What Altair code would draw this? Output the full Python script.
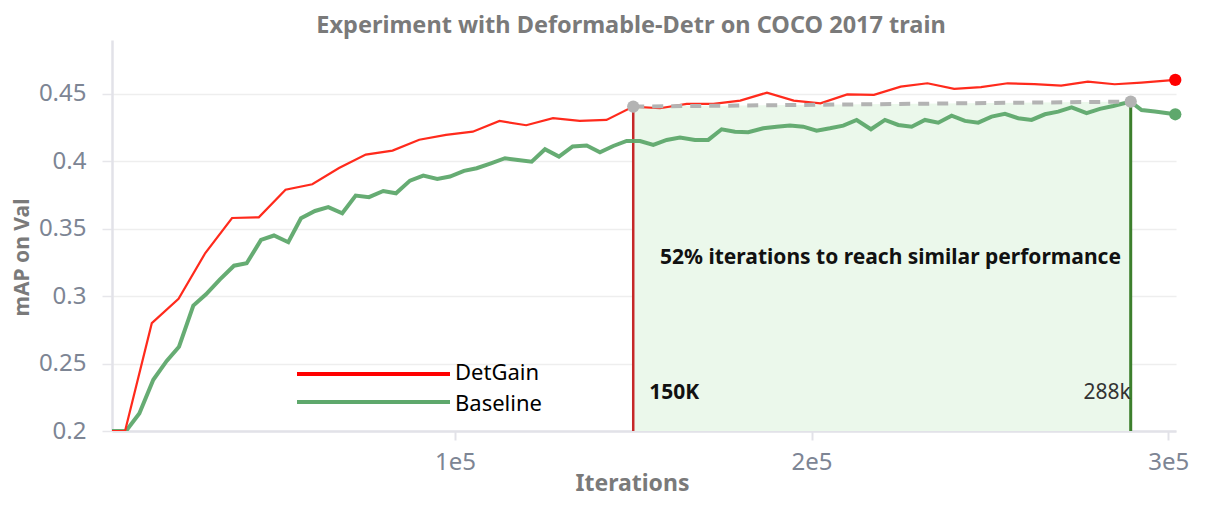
import altair as alt
import pandas as pd

# ---- data ----
red_iter = [0, 7500, 15000, 22500, 30000, 37500, 45000, 52500, 60000, 67500, 75000,
            82500, 90000, 97500, 105000, 112500, 120000, 127500, 135000, 142500,
            150000, 157500, 165000, 172500, 180000, 187500, 195000, 202500, 210000,
            217500, 225000, 232500, 240000, 247500, 255000, 262500, 270000, 277500,
            285000, 292500, 302000]
red_map = [0.2, 0.2, 0.280, 0.298, 0.332, 0.358, 0.3585, 0.379, 0.383, 0.395, 0.405,
           0.408, 0.416, 0.4196, 0.422, 0.430, 0.4268, 0.432, 0.430, 0.4307,
           0.4406, 0.4394, 0.4426, 0.4426, 0.445, 0.451, 0.445, 0.443, 0.4497,
           0.4493, 0.4554, 0.4579, 0.4537, 0.455, 0.4579, 0.4572, 0.4562, 0.4591,
           0.4572, 0.4584, 0.4604]

green_iter = [0, 7770, 11500, 15420, 19180, 22630, 26640, 30200, 34120, 38050, 41610,
              45620, 49260, 53270, 56830, 60760, 64490, 68410, 72170, 75900, 79910,
              83470, 87400, 91130, 95050, 98610, 102540, 106100, 110100, 114040,
              117680, 121520, 125250, 129170, 133020, 136940, 140670, 144400, 148150,
              151900, 155620, 159380, 163100, 167310, 171040, 174790, 178520, 182250,
              186460, 190210, 193940, 197670, 201430, 205160, 208890, 212650, 216660,
              220590, 224310, 228070, 231800, 235530, 239280, 243010, 246740, 250500,
              254230, 257950, 261710, 265440, 269170, 272930, 277130, 280860, 284590,
              289470, 292550, 296280, 302000]
green_map = [0.2, 0.2, 0.213, 0.238, 0.252, 0.2625, 0.293, 0.3014, 0.3125, 0.3226, 0.3244,
             0.3417, 0.345, 0.340, 0.3578, 0.3632, 0.366, 0.3615, 0.3746, 0.3734, 0.378,
             0.3763, 0.3857, 0.3894, 0.387, 0.3887, 0.3929, 0.3949, 0.3985, 0.4023,
             0.401, 0.3998, 0.409, 0.4035, 0.411, 0.4117, 0.4067, 0.4114, 0.4151,
             0.4151, 0.4122, 0.4159, 0.4176, 0.4159, 0.4159, 0.4238, 0.422, 0.4216,
             0.4245, 0.4257, 0.4265, 0.4257, 0.4228, 0.4245, 0.4265, 0.4307, 0.4238,
             0.4307, 0.427, 0.4257, 0.4307, 0.4287, 0.4339, 0.43, 0.4287, 0.4332,
             0.4352, 0.432, 0.4307, 0.4349, 0.4369, 0.4401, 0.4357, 0.4389, 0.4411,
             0.4443, 0.4381, 0.4369, 0.4349]

# reach-similar-performance markers
mark_iter = [150000, 289500]
mark_map = [0.4406, 0.4443]
mark_label = ["150K", "288k"]

annot_text = "52% iterations to reach similar performance"
annot_iter = 157500
annot_map = 0.3283

series_names = ["DetGain", "Baseline"]
series_colors = ["#ff2a1c", "#5ea86c"]

x_ticks = [100000, 200000, 300000]
y_ticks = [0.2, 0.25, 0.3, 0.35, 0.4, 0.45]

X_DOM = [3840, 302200]
Y_DOM = [0.2, 0.49]
FONT = "Noto Sans"

red_df = pd.DataFrame({"it": red_iter, "map": red_map})
green_df = pd.DataFrame({"it": green_iter, "map": green_map})
mark_df = pd.DataFrame({"it": mark_iter, "map": mark_map, "label": mark_label,
                        "base": [0.2, 0.2]})
end_df = pd.DataFrame({"it": [red_iter[-1], green_iter[-1]],
                       "map": [red_map[-1], green_map[-1]],
                       "series": series_names})

xs = alt.Scale(domain=X_DOM, nice=False, zero=False)
ys = alt.Scale(domain=Y_DOM, nice=False, zero=False)

x_axis = alt.Axis(values=x_ticks, labelExpr="datum.value/100000 + 'e5'", title="Iterations",
                  grid=False, tickSize=9, tickColor="#e2e2e8", tickWidth=2,
                  labelPadding=10, titleX=520, titleY=52, titleAlign="center",
                  titleBaseline="middle", titleFontSize=23)
y_axis = alt.Axis(values=y_ticks, labelExpr="format(datum.value, '~g')", title="mAP on Val",
                  grid=True, gridColor="#eeeeee", gridWidth=1.5, tickSize=10,
                  tickColor="#e6e6ea", tickWidth=1.5, labelPadding=16,
                  titleX=-90, titleY=217, titleAngle=270, titleAlign="center",
                  titleBaseline="middle", titleFontSize=21)

X = alt.X("it:Q", scale=xs, axis=x_axis)
Y = alt.Y("map:Q", scale=ys, axis=y_axis)

shade = alt.Chart(mark_df).mark_area(color="#ebf8eb", opacity=1).encode(
    x=alt.X("it:Q", scale=xs, axis=x_axis), y=Y, y2="base:Q")

red_line = alt.Chart(red_df).mark_line(color=series_colors[0], strokeWidth=2.2, clip=True).encode(x=X, y=Y)
green_line = alt.Chart(green_df).mark_line(color=series_colors[1], strokeWidth=4, opacity=0.95,
                                            clip=True).encode(x=X, y=Y)

red_rule = alt.Chart(mark_df.iloc[[0]]).mark_rule(color="#c62828", strokeWidth=2.5).encode(
    x="it:Q", y="map:Q", y2="base:Q")
green_rule = alt.Chart(mark_df.iloc[[1]]).mark_rule(color="#3c7f2c", strokeWidth=3).encode(
    x="it:Q", y="map:Q", y2="base:Q")

dash = alt.Chart(mark_df).mark_line(color="#b3b3b3", strokeWidth=4, strokeDash=[11, 8]).encode(
    x="it:Q", y="map:Q")
gray_pts = alt.Chart(mark_df).mark_point(filled=True, color="#b3b3b3", size=150, opacity=1).encode(
    x="it:Q", y="map:Q")
end_pts = alt.Chart(end_df).mark_point(filled=True, size=150, opacity=1, clip=False).encode(
    x="it:Q", y="map:Q",
    color=alt.Color("series:N", scale=alt.Scale(domain=series_names, range=["#ff0000", "#5ea86c"]),
                    legend=None))

annot = alt.Chart(pd.DataFrame({"it": [annot_iter], "map": [annot_map], "t": [annot_text]})).mark_text(
    align="left", baseline="middle", fontSize=21, fontWeight="bold", font=FONT, color="#111111"
).encode(x="it:Q", y="map:Q", text="t:N")

lbl150 = alt.Chart(mark_df.iloc[[0]]).mark_text(
    align="left", baseline="middle", fontSize=21, fontWeight="bold", font=FONT, color="#111111",
    dx=16, dy=-38).encode(x="it:Q", y="base:Q", text="label:N")
lbl288 = alt.Chart(mark_df.iloc[[1]]).mark_text(
    align="right", baseline="middle", fontSize=21, font=FONT, color="#333333",
    dx=0, dy=-38).encode(x="it:Q", y="base:Q", text="label:N")

# manual legend
leg_red = alt.Chart(red_df.iloc[[0]]).mark_rule(color="#ff0000", strokeWidth=4).encode(
    x=alt.value(185), x2=alt.value(338), y=alt.value(334))
leg_green = alt.Chart(red_df.iloc[[0]]).mark_rule(color="#5ea86c", strokeWidth=4).encode(
    x=alt.value(185), x2=alt.value(338), y=alt.value(362))
leg_t1 = alt.Chart(red_df.iloc[[0]]).mark_text(
    align="left", baseline="middle", fontSize=22, font=FONT, color="#000000"
).encode(x=alt.value(343), y=alt.value(333), text=alt.value(series_names[0]))
leg_t2 = alt.Chart(red_df.iloc[[0]]).mark_text(
    align="left", baseline="middle", fontSize=22, font=FONT, color="#000000"
).encode(x=alt.value(343), y=alt.value(364), text=alt.value(series_names[1]))

chart = alt.layer(
    shade, red_rule, green_line, red_line, green_rule, dash, gray_pts, end_pts,
    annot, lbl150, lbl288, leg_red, leg_green, leg_t1, leg_t2
).properties(
    width=1064, height=391,
    title=alt.TitleParams("Experiment with Deformable-Detr on COCO 2017 train", fontSize=23.5,
                          font=FONT, fontWeight="bold", color="#7a7a7a", anchor="middle",
                          dx=-13, offset=3),
    autosize=alt.AutoSizeParams(type="none"),
    padding={"left": 104, "top": 32, "right": 20, "bottom": 74},
).configure_view(stroke=None).configure_axis(
    labelFont=FONT, labelFontSize=24, labelColor="#7d8594",
    titleFont=FONT, titleColor="#7a7a7a", titleFontWeight="bold",
    domainColor="#e2e2e8", domainWidth=2.5,
)

chart.save("out.html", embed_options={"renderer": "svg", "actions": False})
